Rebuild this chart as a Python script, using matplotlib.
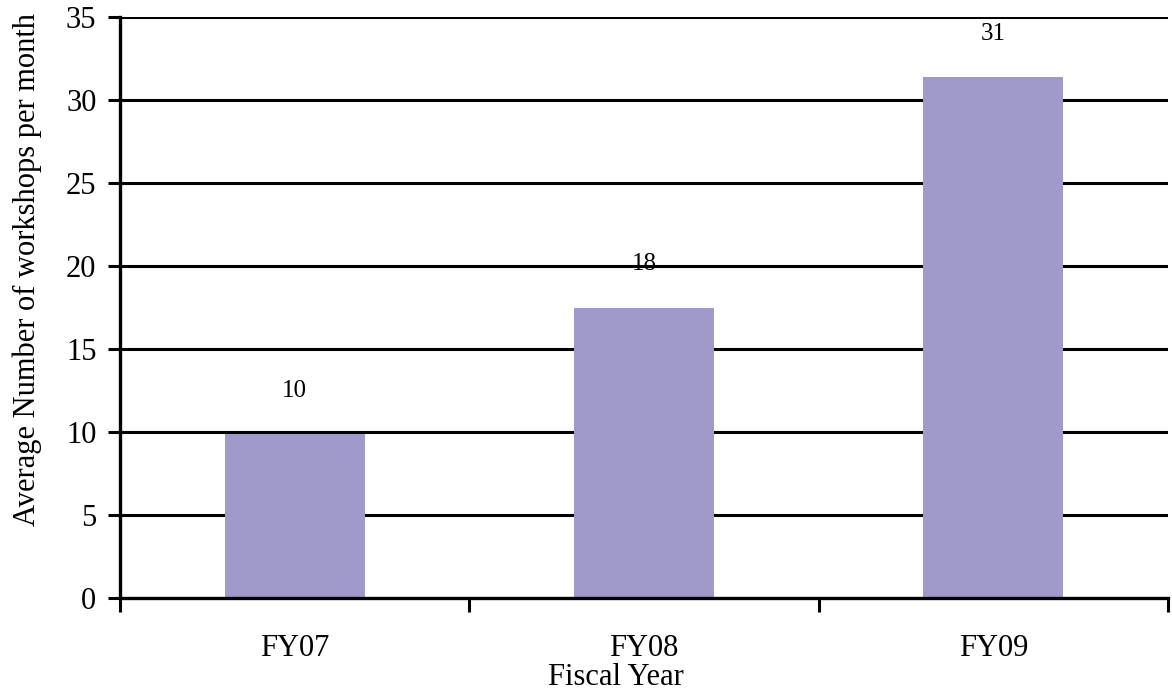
import numpy as np
import matplotlib.pyplot as plt

plt.rcParams["font.family"] = ["Liberation Serif", "DejaVu Serif"]

# Average workshops per month by fiscal year
years = ["FY07", "FY08", "FY09"]
workshops = [9.9, 17.5, 31.4]

bar_color = "#a09aca"

fig = plt.figure(figsize=(11.72, 6.92), dpi=100)
ax = fig.add_axes([120 / 1172, 94 / 692, 1048 / 1172, 581 / 692])

x = np.arange(len(years))
ax.bar(x, workshops, width=0.4, color=bar_color, zorder=3)

# Value labels above bars
for xi, val in zip(x, workshops):
    ax.text(xi, val + 2.6, "{:.0f}".format(val), ha="center", va="center",
            fontsize=18, zorder=4)

# Axis limits and horizontal grid
ax.set_xlim(-0.5, len(years) - 0.5)
ax.set_ylim(0, 35)
ax.set_yticks(np.arange(0, 36, 5))
for yv in np.arange(5, 36, 5):
    ax.axhline(yv, color="black", linewidth=2.2, zorder=1)

# Category ticks sit on the boundaries, labels in the middle
ax.set_xticks(np.arange(-0.5, len(years), 1.0))
ax.set_xticklabels([])
ax.set_xticks(x, minor=True)
ax.set_xticklabels(years, minor=True, fontsize=22)
ax.tick_params(axis="x", which="major", direction="out", length=10, width=2.2)
ax.tick_params(axis="x", which="minor", length=0, pad=26)
ax.tick_params(axis="y", direction="out", length=9, width=2.2, labelsize=22, pad=8)

for side in ["top", "right"]:
    ax.spines[side].set_visible(False)
for side in ["left", "bottom"]:
    ax.spines[side].set_linewidth(2.4)
    ax.spines[side].set_zorder(5)

ax.set_xlabel("Fiscal Year", fontsize=22)
ax.set_ylabel("Average Number of workshops per month", fontsize=22)
ax.xaxis.set_label_coords(0.473, -0.112)
ax.yaxis.set_label_coords(-0.074, 0.565)

fig.savefig("out.png", dpi=100)
